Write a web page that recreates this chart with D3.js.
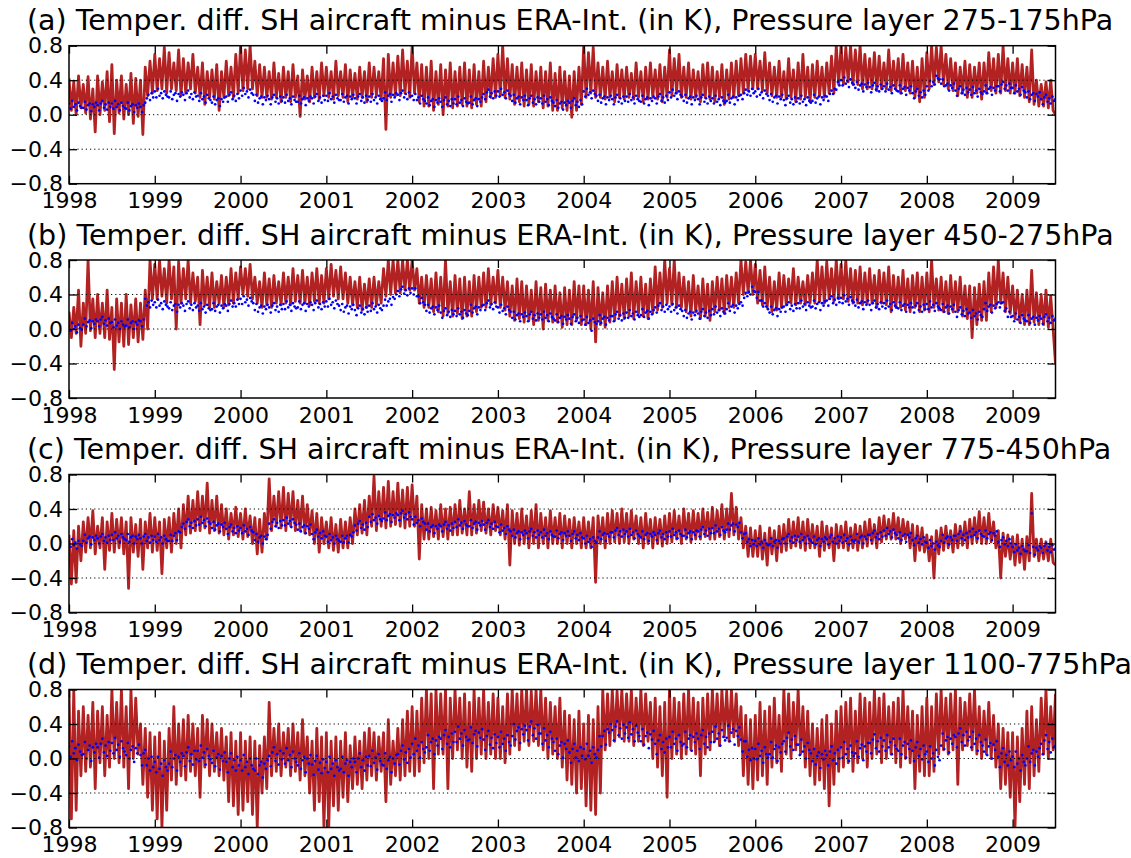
<!DOCTYPE html>
<html><head><meta charset="utf-8">
<script src="https://cdn.jsdelivr.net/npm/d3@7"></script>
<style>body{margin:0;background:#fff}svg{display:block}</style>
</head><body>
<script>
// ---- data (K). Red: every 1/36 year, blue: every 1/54 year, 1998.0 .. 2009.5 ----
const startYear = 1998, endYear = 2009.5;
const yearTicks = [1998,1999,2000,2001,2002,2003,2004,2005,2006,2007,2008,2009];
const valueTicks = [-0.8,-0.4,0.0,0.4,0.8];
const gridValues = [-0.4,0.0,0.4];
const titles = [
 "(a) Temper. diff. SH aircraft minus ERA-Int. (in K), Pressure layer 275-175hPa",
 "(b) Temper. diff. SH aircraft minus ERA-Int. (in K), Pressure layer 450-275hPa",
 "(c) Temper. diff. SH aircraft minus ERA-Int. (in K), Pressure layer 775-450hPa",
 "(d) Temper. diff. SH aircraft minus ERA-Int. (in K), Pressure layer 1100-775hPa"];

const aRed = [
 .42,.05,.38,.0,.45,.08, .35,.02,.44,-.05,.3,-.2, .45,.0,.38,.05,.5,-.08, .58,-.22,.4,.02,.45,-.05, .35,.0,.48,-.1,.42,-.02, .4,-.23,.55,.22,.62,.25,
 .7,.28,.65,.3,.78,.25, .72,.3,.6,.28,.75,.22, .65,.25,.6,.3,.7,.25, .55,.2,.6,.12,.5,.2, .52,.18,.58,.05,.5,.2, .62,.22,.55,.2,.7,.25,
 .8,.28,.75,.3,.8,.3, .62,.22,.58,.2,.55,.2, .5,.18,.6,.2,.48,.15, .55,.2,.5,.15,.58,.2, .45,-.02,.52,.18,.45,.15, .55,.2,.5,.18,.6,.22,
 .55,.2,.5,.18,.62,.22, .5,.2,.58,.15,.52,.2, .48,.18,.55,.2,.5,.15, .6,.2,.55,.22,.5,.18, .65,-.17,.7,.2,.6,.22, .68,.22,.75,.25,.62,.2,
 .8,.25,.6,.15,.58,.1, .55,.1,.62,.05,.5,.12, .58,.0,.52,.1,.6,.08, .5,.1,.55,.12,.6,.1, .52,.08,.58,.12,.5,.1, .62,.15,.55,.2,.65,.2,
 .7,.22,.8,.2,.65,.18, .58,.12,.55,.15,.6,.1, .52,.12,.58,.1,.5,.15, .55,.08,.5,.1,.6,.05, .48,.05,.55,.08,.5,.05, .45,-.03,.5,.05,.55,.12,
 .8,.2,.72,.25,.78,.2, .6,.2,.55,.18,.62,.2, .5,.15,.58,.2,.52,.18, .55,.2,.48,.18,.6,.2, .5,.15,.55,.18,.6,.2, .52,.18,.58,.15,.55,.2,
 .75,.22,.65,.25,.7,.2, .55,.2,.6,.18,.52,.2, .5,.15,.58,.2,.6,.18, .55,.15,.5,.2,.58,.12, .52,.18,.6,.2,.62,.22, .65,.25,.7,.28,.68,.3,
 .7,.3,.62,.28,.72,.25, .6,.22,.55,.2,.62,.2, .5,.18,.65,.2,.52,.15, .6,.18,.7,.2,.55,.15, .58,.2,.62,.22,.55,.2, .6,.25,.68,.25,.8,.35,
 .8,.35,.78,.38,.8,.35, .75,.35,.8,.3,.7,.3, .65,.3,.72,.28,.68,.3, .6,.3,.75,.28,.62,.3, .65,.25,.7,.28,.6,.25, .62,.2,.55,.15,.65,.2,
 .72,.3,.8,.35,.78,.38, .8,.35,.7,.3,.65,.28, .6,.22,.55,.25,.62,.2, .58,.2,.55,.25,.6,.18, .6,.25,.72,.28,.65,.25, .7,.25,.8,.28,.65,.25,
 .6,.25,.65,.22,.58,.2, .55,.15,.75,.12,.4,.1, .35,.1,.38,.08,.4,.05, .0];

const aBlue = [
 .13,.07,.16,.09,.12,.05,.14,.1,.08, .08,.15,.06,.11,.13,.04,.12,.09,.14, .11,.05,.13,.16,.08,.12,.06,.14,.09, .13,.07,.16,.09,.12,.05,.14,.1,.08, .07,.14,.05,.1,.12,.03,.11,.08,.13, .09,.03,.11,.14,.19,.23,.17,.25,.2,
 .27,.2,.3,.22,.25,.19,.27,.23,.21, .2,.27,.18,.23,.25,.16,.24,.21,.26, .23,.17,.25,.28,.2,.24,.18,.26,.21, .22,.16,.25,.18,.21,.14,.23,.19,.17, .14,.21,.12,.17,.19,.1,.18,.15,.2, .21,.15,.23,.26,.18,.22,.16,.24,.19,
 .28,.22,.31,.24,.27,.2,.29,.25,.23, .16,.23,.14,.19,.21,.12,.2,.17,.22, .18,.12,.2,.23,.15,.19,.13,.21,.16, .2,.14,.23,.16,.19,.12,.21,.17,.15, .15,.22,.13,.18,.2,.11,.19,.16,.21, .19,.13,.21,.24,.16,.2,.14,.22,.17,
 .22,.16,.25,.18,.21,.14,.23,.19,.17, .17,.24,.15,.2,.22,.13,.21,.18,.23, .19,.13,.21,.24,.16,.2,.14,.22,.17, .21,.15,.24,.17,.2,.13,.22,.18,.16, .19,.26,.17,.22,.24,.15,.23,.2,.25, .23,.17,.25,.28,.2,.24,.18,.26,.21,
 .22,.17,.24,.17,.2,.13,.22,.18,.16, .13,.2,.11,.16,.18,.09,.17,.14,.19, .15,.09,.17,.2,.12,.16,.1,.18,.13, .18,.12,.21,.14,.17,.1,.19,.15,.13, .14,.21,.12,.17,.19,.1,.18,.15,.2, .24,.18,.26,.29,.21,.25,.19,.27,.22,
 .27,.21,.3,.23,.26,.19,.28,.24,.22, .16,.23,.14,.19,.21,.12,.2,.17,.22, .17,.11,.19,.22,.14,.18,.12,.2,.15, .19,.13,.22,.15,.18,.11,.2,.16,.14, .1,.17,.08,.13,.15,.06,.14,.11,.16, .14,.08,.16,.19,.11,.15,.09,.17,.12,
 .27,.21,.3,.23,.26,.19,.28,.24,.22, .16,.23,.14,.19,.21,.12,.2,.17,.22, .18,.12,.2,.23,.15,.19,.13,.21,.16, .21,.15,.24,.17,.2,.13,.22,.18,.16, .15,.22,.13,.18,.2,.11,.19,.16,.21, .19,.13,.21,.24,.16,.2,.14,.22,.17,
 .26,.2,.29,.22,.25,.18,.27,.23,.21, .16,.23,.14,.19,.21,.12,.2,.17,.22, .18,.12,.2,.23,.15,.19,.13,.21,.16, .19,.13,.22,.15,.18,.11,.2,.16,.14, .16,.23,.14,.19,.21,.12,.2,.17,.22, .23,.18,.25,.29,.23,.27,.22,.3,.25,
 .27,.21,.3,.23,.26,.19,.28,.24,.22, .17,.24,.15,.2,.22,.13,.21,.18,.23, .17,.11,.19,.22,.14,.18,.12,.2,.15, .19,.13,.22,.15,.18,.11,.2,.16,.14, .16,.23,.14,.19,.21,.12,.2,.17,.22, .21,.16,.24,.28,.24,.3,.29,.38,.34,
 .4,.34,.43,.36,.39,.32,.41,.37,.35, .31,.38,.29,.34,.36,.27,.35,.32,.37, .32,.26,.34,.37,.29,.33,.27,.35,.3, .33,.27,.36,.29,.32,.25,.34,.3,.28, .27,.34,.25,.3,.32,.23,.31,.28,.33, .25,.19,.27,.3,.22,.26,.2,.28,.23,
 .33,.28,.39,.33,.38,.35,.45,.42,.41, .36,.41,.33,.34,.36,.28,.34,.31,.36, .28,.22,.3,.33,.25,.29,.23,.31,.26, .29,.23,.32,.25,.28,.21,.3,.26,.24, .27,.34,.25,.3,.32,.23,.31,.28,.33, .33,.27,.35,.38,.3,.34,.28,.36,.31,
 .31,.25,.34,.27,.3,.23,.32,.28,.26, .2,.27,.18,.23,.25,.16,.24,.21,.26, .18,.12,.2,.23,.15,.19,.13,.21,.16, .18];

const bRed = [
 .2,-.1,.25,-.05,.45,-.2, .3,-.05,.8,-.02,.35,-.1, .4,-.05,.3,-.1,.45,-.12, .25,-.47,.35,-.15,.3,-.2, .4,-.18,.28,-.1,.35,-.15, .3,-.12,.45,.0,.8,.35,
 .75,.35,.8,.38,.7,.3, .8,.35,.72,.0,.78,.3, .7,.35,.8,.3,.65,.32, .6,.05,.68,.28,.6,.25, .65,.25,.55,.3,.62,.25, .6,.28,.7,.3,.65,.35,
 .72,.4,.7,.38,.75,.35, .6,.3,.55,.25,.65,.28, .58,.25,.62,.3,.55,.28, .65,.3,.6,.28,.7,.32, .62,.3,.68,.3,.6,.28, .65,.32,.7,.3,.62,.3,
 .7,.35,.75,.38,.68,.35, .72,.35,.65,.3,.6,.28, .55,.25,.6,.22,.52,.25, .58,.25,.6,.28,.55,.3, .7,.38,.8,.4,.8,.42, .8,.42,.8,.45,.8,.45,
 .8,.45,.7,.3,.6,.25, .62,.25,.58,.2,.65,.2, .6,.15,.8,.18,.55,.15, .62,.18,.58,.12,.6,.15, .55,.15,.62,.2,.6,.25, .65,.25,.7,.28,.6,.3,
 .68,.25,.6,.22,.55,.15, .5,.1,.58,.12,.55,.08, .5,.1,.45,.05,.55,.1, .48,.0,.52,.1,.45,.08, .5,.08,.42,.02,.48,.05, .45,.05,.55,.1,.5,.05,
 .5,.05,.45,.0,.55,-.15, .48,.05,.42,.02,.5,.08, .55,.1,.6,.15,.52,.12, .58,.15,.65,.12,.55,.18, .6,.15,.52,.12,.58,.18, .72,.22,.65,.25,.8,.3,
 .7,.28,.8,.25,.65,.25, .6,.2,.55,.15,.62,.2, .5,.12,.58,.15,.52,.1, .55,.2,.6,.22,.58,.18, .62,.25,.6,.25,.65,.3, .8,.4,.78,.42,.8,.4,
 .75,.3,.68,.28,.72,.25, .6,.2,.55,.22,.65,.25, .62,.28,.58,.3,.7,.28, .6,.3,.55,.28,.62,.3, .65,.3,.8,.32,.72,.3, .78,.35,.7,.32,.8,.35,
 .75,.35,.8,.32,.7,.3, .68,.3,.72,.28,.65,.3, .7,.3,.62,.25,.68,.3, .65,.28,.72,.2,.62,.25, .6,.25,.68,.22,.58,.2, .62,.25,.65,.2,.6,.22,
 .65,.2,.8,.25,.58,.22, .6,.2,.55,.18,.62,.2, .55,.2,.6,.15,.5,.12, .5,-.1,.48,.05,.52,.1, .55,.1,.65,.2,.72,.25, .8,.3,.65,.2,.6,.18,
 .5,.12,.45,.08,.4,.05, .45,.05,.68,.08,.42,.05, .4,.05,.45,.02,.38,.0, -.4];

const bBlue = [
 .04,-.02,.07,.0,.03,-.04,.05,.01,-.01, .05,.12,.03,.08,.1,.01,.09,.06,.11, .09,.03,.11,.14,.06,.1,.04,.12,.07, .08,.02,.11,.04,.07,.0,.09,.05,.03, .04,.11,.02,.07,.09,.0,.08,.05,.1, .09,.03,.11,.35,.27,.31,.25,.33,.28,
 .31,.25,.34,.27,.3,.23,.32,.28,.26, .24,.31,.22,.27,.29,.2,.28,.25,.3, .27,.21,.29,.32,.24,.28,.22,.3,.25, .27,.21,.3,.23,.26,.19,.28,.24,.22, .23,.3,.21,.26,.28,.19,.27,.24,.29, .27,.21,.29,.33,.26,.3,.26,.34,.29,
 .35,.29,.38,.31,.34,.27,.36,.32,.3, .22,.29,.2,.25,.27,.18,.26,.23,.28, .25,.19,.27,.3,.22,.26,.2,.28,.23, .29,.23,.32,.25,.28,.21,.3,.26,.24, .25,.32,.23,.28,.3,.21,.29,.26,.31, .28,.22,.3,.33,.25,.29,.23,.31,.26,
 .32,.26,.35,.28,.31,.24,.33,.29,.27, .22,.29,.2,.25,.27,.18,.26,.23,.28, .22,.16,.24,.27,.19,.23,.17,.25,.2, .27,.21,.3,.23,.26,.19,.28,.24,.22, .27,.34,.27,.32,.35,.28,.37,.35,.4, .44,.38,.46,.49,.41,.45,.39,.47,.42,
 .47,.4,.47,.38,.38,.3,.36,.31,.28, .21,.28,.19,.24,.26,.17,.25,.22,.27, .19,.13,.21,.24,.16,.2,.14,.22,.17, .21,.15,.24,.17,.2,.13,.22,.18,.16, .21,.28,.19,.24,.26,.17,.25,.22,.27, .28,.22,.3,.33,.25,.29,.23,.31,.26,
 .25,.19,.28,.21,.24,.17,.26,.22,.2, .13,.2,.11,.16,.18,.09,.17,.14,.19, .15,.09,.17,.2,.12,.16,.1,.18,.13, .17,.11,.2,.13,.16,.09,.18,.14,.12, .1,.17,.08,.13,.15,.06,.14,.11,.16, .12,.06,.14,.17,.09,.13,.07,.15,.1,
 .11,.05,.14,.07,.1,-.02,.12,.08,.06, .09,.16,.07,.12,.14,.05,.13,.1,.15, .15,.09,.17,.2,.12,.16,.1,.18,.13, .19,.13,.22,.15,.18,.11,.2,.16,.14, .16,.23,.14,.19,.21,.12,.2,.17,.22, .25,.19,.27,.3,.22,.26,.2,.28,.23,
 .26,.2,.29,.22,.25,.18,.27,.23,.21, .15,.22,.13,.18,.2,.11,.19,.16,.21, .18,.12,.2,.23,.15,.19,.13,.21,.16, .23,.17,.26,.19,.22,.15,.24,.2,.18, .23,.3,.21,.26,.28,.19,.27,.24,.29, .31,.27,.36,.42,.38,.43,.4,.49,.44,
 .43,.36,.43,.33,.33,.26,.3,.26,.23, .19,.26,.17,.22,.24,.15,.23,.2,.25, .26,.2,.28,.31,.23,.27,.21,.29,.24, .3,.24,.33,.26,.29,.22,.31,.27,.25, .26,.33,.24,.29,.31,.22,.3,.27,.32, .33,.27,.35,.38,.3,.34,.28,.36,.31,
 .36,.3,.39,.32,.35,.28,.37,.33,.31, .27,.34,.25,.3,.32,.23,.31,.28,.33, .28,.22,.3,.33,.25,.29,.23,.31,.26, .3,.24,.33,.26,.29,.22,.31,.27,.25, .24,.31,.22,.27,.29,.2,.28,.25,.3, .25,.19,.27,.3,.22,.26,.2,.28,.23,
 .29,.23,.32,.25,.28,.21,.3,.26,.24, .22,.29,.2,.25,.27,.18,.26,.23,.28, .2,.14,.22,.25,.17,.21,.15,.23,.18, .19,.13,.22,.15,.18,.11,.2,.16,.14, .23,.3,.21,.26,.28,.19,.27,.24,.29, .31,.25,.3,.31,.21,.24,.14,.2,.14,
 .15,.09,.18,.11,.14,.07,.16,.12,.1, .09,.16,.07,.12,.14,.05,.13,.1,.15, .12,.06,.14,.17,.09,.13,.07,.15,.1, .12];

const cRed = [
 .1,-.47,.15,-.45,.2,-.2, .25,-.1,.3,-.05,.38,-.12, .2,-.05,.3,-.3,.25,-.08, .35,-.1,.28,-.05,.3,-.12, .25,-.52,.3,-.1,.22,-.15, .28,-.3,.25,-.05,.35,-.1,
 .3,-.08,.25,-.35,.28,-.05, .3,-.1,.35,.0,.4,-.05, .45,.1,.55,.12,.5,.15, .6,.15,.55,.18,.7,.12, .5,.15,.55,.12,.45,.1, .4,.05,.35,.1,.42,.08,
 .35,.05,.4,.08,.32,.0, .3,-.12,.28,-.1,.35,.05, .75,.15,.55,.2,.6,.18, .65,.15,.58,.2,.6,.15, .5,.15,.55,.12,.45,.1, .38,.0,.35,-.1,.3,.0,
 .25,-.05,.3,-.08,.22,-.1, .28,-.05,.25,-.05,.3,.0, .4,.1,.45,.12,.5,.1, .55,.2,.78,.15,.6,.2, .65,.18,.72,.2,.6,.22, .7,.2,.62,.18,.65,.2,
 .68,.2,.55,-.18,.45,.05, .4,.05,.42,.08,.38,.05, .45,.08,.4,.05,.42,.1, .45,.1,.5,.12,.4,.1, .6,.1,.45,.12,.5,.15, .48,.12,.4,.1,.45,.15,
 .42,.1,.38,.05,.45,-.25, .38,.0,.35,-.02,.4,.0, .32,-.05,.38,.0,.45,-.05, .35,.0,.3,-.05,.38,.0, .3,.0,.35,-.05,.32,.0, .28,-.05,.3,.0,.25,-.05,
 .3,-.05,.25,-.05,.3,-.45, .32,.0,.3,-.05,.35,.0, .38,.02,.35,.0,.4,.02, .35,.0,.38,.05,.32,.0, .3,-.05,.35,.0,.28,-.05, .3,.0,.28,-.03,.32,.0,
 .35,.02,.38,.05,.32,.0, .4,.05,.35,.02,.38,.05, .35,.05,.4,.08,.36,.05, .42,.05,.38,.08,.45,.05, .4,.08,.58,.1,.42,.05, .3,-.05,.2,-.15,.18,-.15,
 .15,-.15,.2,-.18,.12,-.25, .18,-.12,.15,-.2,.2,-.1, .22,-.08,.28,-.05,.25,-.03, .3,-.05,.25,-.08,.28,-.05, .22,-.05,.2,-.15,.25,-.08, .2,-.05,.18,-.2,.22,-.05,
 .2,-.05,.25,-.08,.18,-.05, .22,-.08,.2,-.05,.25,-.03, .28,.0,.22,-.05,.3,.02, .32,.05,.28,.05,.35,.05, .3,.0,.28,.05,.25,-.05, .22,-.2,.2,-.08,.18,-.1,
 .1,-.2,.08,-.4,.15,-.12, .18,-.08,.2,-.05,.15,-.1, .22,-.05,.2,-.02,.25,-.05, .28,.0,.3,.02,.37,.0, .3,.0,.35,.02,.25,-.05, .15,-.4,.12,-.15,.1,-.18,
 .08,-.25,.1,-.22,.05,-.3, .08,-.2,.58,-.15,.05,-.2, .05,-.18,.02,-.2,.05,-.22, -.25];

const cBlue = [
 .02,-.04,.05,-.02,.01,-.06,.03,-.01,-.03, .03,.1,.01,.06,.08,-.01,.07,.04,.09, .06,.0,.08,.11,.03,.07,.01,.09,.04, .1,.04,.13,.06,.09,.02,.11,.07,.05, .04,.11,.02,.07,.09,.0,.08,.05,.1, .06,.0,.08,.11,.03,.07,.01,.09,.04,
 .08,.02,.11,.04,.07,.0,.09,.05,.03, .03,.1,.03,.09,.12,.04,.14,.13,.19, .23,.17,.25,.28,.2,.24,.18,.26,.21, .28,.22,.31,.24,.27,.2,.29,.25,.23, .18,.25,.16,.21,.23,.14,.22,.19,.24, .17,.11,.19,.22,.14,.18,.12,.2,.15,
 .18,.12,.21,.14,.17,.1,.19,.15,.13, .04,.11,.02,.07,.09,.0,.08,.05,.1, .23,.17,.25,.28,.2,.24,.18,.26,.21, .27,.21,.3,.23,.26,.19,.28,.24,.22, .16,.23,.14,.19,.21,.12,.2,.17,.22, .11,.05,.13,.16,.08,.12,.06,.14,.09,
 .08,.02,.11,.04,.07,.0,.09,.05,.03, .02,.09,.01,.06,.09,.01,.1,.08,.13, .21,.15,.23,.26,.18,.22,.16,.24,.19, .31,.25,.34,.27,.3,.23,.32,.28,.26, .29,.36,.27,.32,.34,.25,.33,.3,.35, .33,.27,.35,.38,.3,.34,.28,.36,.31,
 .28,.22,.31,.24,.27,.2,.29,.25,.23, .16,.23,.14,.19,.21,.12,.2,.17,.22, .2,.14,.22,.25,.17,.21,.15,.23,.18, .25,.19,.28,.21,.24,.17,.26,.22,.2, .2,.27,.18,.23,.25,.16,.24,.21,.26, .22,.16,.24,.27,.19,.23,.17,.25,.2,
 .19,.13,.22,.15,.18,.11,.2,.16,.14, .09,.16,.07,.12,.14,.05,.13,.1,.15, .12,.06,.14,.17,.09,.13,.07,.15,.1, .13,.07,.16,.09,.12,.05,.14,.1,.08, .08,.15,.06,.11,.13,.04,.12,.09,.14, .09,.03,.11,.14,.06,.1,.04,.12,.07,
 .06,.0,.09,.02,.05,-.04,.07,.03,.01, .07,.14,.05,.1,.12,.03,.11,.08,.13, .13,.07,.15,.18,.1,.14,.08,.16,.11, .14,.08,.17,.1,.13,.06,.15,.11,.09, .07,.14,.05,.1,.12,.03,.11,.08,.13, .1,.04,.12,.15,.07,.11,.05,.13,.08,
 .14,.08,.17,.1,.13,.06,.15,.11,.09, .09,.16,.07,.12,.14,.05,.13,.1,.15, .14,.08,.16,.19,.11,.15,.09,.17,.12, .18,.12,.21,.14,.17,.1,.19,.15,.13, .16,.23,.16,.21,.23,.14,.22,.19,.24, .13,.06,.11,.12,.02,.05,-.03,.04,-.01,
 .03,-.03,.06,-.01,.02,-.05,.04,.0,-.02, -.01,.06,-.03,.02,.04,-.05,.03,.0,.05, .06,.0,.08,.11,.03,.07,.01,.09,.04, .08,.02,.11,.04,.07,.0,.09,.05,.03, .01,.08,-.01,.04,.06,-.03,.05,.02,.07, .05,-.01,.07,.1,.02,.06,.0,.08,.03,
 .07,.01,.1,.03,.06,-.01,.08,.04,.02, .04,.11,.02,.07,.09,.0,.08,.05,.1, .1,.04,.12,.15,.07,.11,.05,.13,.08, .15,.09,.18,.11,.14,.07,.16,.12,.1, .06,.13,.04,.09,.11,.02,.1,.07,.12, .04,-.02,.06,.09,.01,.05,-.01,.07,.02,
 .01,-.05,.04,-.03,.0,-.07,.02,-.02,-.04, .03,.1,.01,.06,.08,-.01,.07,.04,.09, .09,.03,.11,.14,.06,.1,.04,.12,.07, .14,.08,.17,.1,.13,.06,.15,.11,.09, .08,.15,.06,.11,.13,.04,.12,.09,.14, .02,-.04,.04,.07,-.01,.03,-.03,.05,.0,
 -.04,-.1,-.01,-.08,-.05,-.12,-.03,-.07,-.09, -.09,-.02,-.11,.35,-.04,-.13,-.05,-.08,-.03, -.05,-.11,-.03,.0,-.08,-.04,-.1,-.02,-.07, -.06];

const dRed = [
 .8,-.7,.8,-.6,.55,-.2, .6,-.15,.5,-.1,.65,-.35, .55,-.05,.6,-.2,.5,-.1, .8,.0,.65,-.05,.8,-.1, .6,-.35,.8,.0,.7,.05, .4,-.3,.35,-.45,.3,-.6,
 .25,-.7,.3,-.8,.2,-.6, .35,-.25,.6,-.3,.4,-.2, .45,-.25,.5,-.15,.4,-.2, .35,-.45,.5,-.1,.45,-.2, .4,-.15,.3,-.2,.35,-.25, .25,-.5,.3,-.55,.2,-.65,
 .3,-.6,.2,-.5,.25,-.65, .2,-.8,.15,-.4,.25,-.35, .65,-.2,.35,-.15,.4,-.2, .3,-.1,.35,-.2,.4,-.15, .3,-.25,.45,-.2,.25,-.4, .2,-.6,.35,-.5,.25,-.8,
 .3,-.8,.2,-.55,.25,-.6, .2,-.45,.3,-.5,.15,-.35, .25,-.3,.2,-.35,.3,-.25, .35,-.2,.3,-.25,.25,-.15, .3,-.5,.45,-.3,.2,-.2, .35,-.25,.45,-.2,.55,-.15,
 .6,-.2,.55,-.15,.7,-.05, .8,.0,.75,-.35,.8,.05, .75,.05,.8,-.35,.7,.0, .8,.1,.7,.0,.75,-.1, .65,-.15,.8,.0,.7,.05, .8,.0,.65,.05,.75,.0,
 .7,.0,.6,-.05,.75,.05, .8,.15,.75,.1,.8,.2, .8,.15,.78,.2,.8,.15, .8,.1,.7,.0,.65,.05, .6,.0,.7,-.1,.55,-.25, .5,-.3,.45,-.4,.55,-.35,
 .4,-.55,.5,-.6,.45,-.65, .6,-.4,.8,.1,.75,.15, .8,.2,.78,.25,.8,.2, .75,.2,.8,.15,.7,.2, .8,.15,.75,.2,.65,.0, .7,-.1,.6,-.2,.65,-.45,
 .8,.0,.7,.05,.65,.0, .75,.05,.8,.1,.7,.05, .65,-.2,.7,.05,.75,.1, .8,.2,.75,.15,.8,.25, .78,.2,.8,.25,.75,.15, .6,-.2,.5,-.3,.45,-.35,
 .5,-.25,.65,-.2,.55,-.3, .6,-.1,.7,-.05,.5,-.15, .8,.05,.75,.0,.65,.1, .8,.05,.6,-.1,.55,-.2, .4,-.3,.35,-.25,.45,-.35, .5,-.55,.4,-.3,.55,-.15,
 .6,-.1,.65,-.05,.7,-.15, .55,-.05,.75,.0,.7,-.1, .65,.0,.8,.05,.7,-.05, .75,.0,.6,.05,.65,-.05, .7,-.1,.8,.0,.6,-.05, .55,-.35,.5,-.15,.6,-.2,
 .7,-.2,.6,-.15,.75,.05, .8,.1,.7,.05,.75,.1, .8,-.3,.7,.1,.65,.15, .75,.1,.8,.05,.6,.0, .55,.05,.65,.0,.5,-.1, .4,-.35,.35,-.3,.3,-.45,
 .3,-.8,.25,-.5,.35,-.3, .55,-.35,.6,-.2,.45,-.15, .7,.05,.8,.0,.6,.1, .75];

const dBlue = [
 .14,.02,.2,.06,.12,-.02,.16,.08,.04, .05,.19,.0,.1,.15,-.03,.13,.07,.17, .13,.01,.17,.23,.07,.15,.03,.19,.09, .18,.06,.24,.1,.16,.02,.2,.12,.08, .04,.18,.0,.1,.14,-.04,.12,.06,.16, .04,-.08,.06,.1,-.08,.0,-.14,.02,-.1,
 -.04,-.16,.02,-.12,-.06,-.2,-.02,-.1,-.14, -.06,.08,-.1,.0,.04,-.14,.02,-.04,.06, .03,-.09,.07,.13,-.03,.05,-.07,.09,-.01, .09,-.03,.15,.01,.07,-.07,.11,.03,-.01, -.05,.09,-.09,.01,.05,-.13,.03,-.03,.07, -.04,-.16,.0,.06,-.1,-.02,-.14,.02,-.08,
 -.02,-.14,.04,-.1,-.04,-.18,.0,-.08,-.12, -.14,.0,-.18,-.08,-.04,-.22,-.06,-.12,-.02, .03,-.09,.07,.13,-.03,.05,-.07,.09,-.01, .06,-.06,.12,-.02,.04,-.1,.08,.0,-.04, -.08,.06,-.12,-.02,.02,-.16,.0,-.06,.04, -.07,-.19,-.03,.03,-.13,-.05,-.17,-.01,-.11,
 -.04,-.16,.02,-.12,-.06,-.2,-.02,-.1,-.14, -.12,.02,-.16,-.06,-.02,-.2,-.04,-.1,.0, -.04,-.16,.0,.06,-.1,-.02,-.14,.02,-.08, .03,-.09,.09,-.05,.01,-.13,.05,-.03,-.07, -.08,.06,-.12,-.02,.02,-.16,.0,-.06,.04, .05,-.07,.09,.15,-.01,.07,-.05,.11,.01,
 .17,.05,.23,.09,.15,.01,.19,.11,.07, .13,.27,.09,.19,.23,.05,.21,.15,.25, .23,.11,.27,.33,.17,.25,.13,.29,.19, .31,.19,.37,.23,.29,.15,.33,.25,.21, .22,.36,.18,.28,.32,.14,.3,.24,.34, .22,.1,.26,.32,.16,.24,.12,.28,.18,
 .25,.13,.31,.17,.23,.09,.27,.19,.15, .26,.4,.22,.32,.36,.18,.34,.28,.38, .33,.21,.37,.43,.27,.35,.23,.39,.29, .29,.17,.35,.21,.27,.13,.31,.23,.19, .09,.23,.05,.15,.19,.01,.17,.11,.21, .07,-.05,.11,.17,.01,.09,-.03,.13,.03,
 .11,-.01,.17,.03,.09,-.05,.13,.05,.01, .1,.26,.14,.26,.32,.16,.34,.3,.4, .33,.21,.37,.43,.27,.35,.23,.39,.29, .36,.24,.42,.28,.34,.2,.38,.3,.26, .2,.34,.16,.26,.3,.12,.28,.22,.32, .17,.05,.21,.27,.11,.19,.07,.23,.13,
 .25,.13,.31,.17,.23,.09,.27,.19,.15, .17,.31,.13,.23,.27,.09,.25,.19,.29, .23,.11,.27,.33,.17,.25,.13,.29,.19, .31,.19,.37,.23,.29,.15,.33,.25,.21, .24,.38,.2,.3,.34,.16,.32,.26,.36, .22,.08,.2,.2,.02,.1,-.02,.12,.0,
 .11,-.01,.17,.03,.09,-.05,.13,.05,.01, .05,.19,.01,.11,.15,-.03,.13,.07,.17, .2,.08,.24,.3,.14,.22,.1,.26,.16, .16,.04,.22,.08,.14,.0,.18,.1,.06, -.03,.11,-.07,.03,.07,-.11,.05,-.01,.09, .04,-.08,.08,.14,-.02,.06,-.06,.1,.0,
 .13,.01,.19,.05,.11,-.03,.15,.07,.03, .06,.2,.02,.12,.16,-.02,.14,.08,.18, .18,.06,.22,.28,.12,.2,.08,.24,.14, .21,.09,.27,.13,.19,.05,.23,.15,.11, .09,.23,.05,.15,.19,.01,.17,.11,.21, .09,-.03,.13,.19,.03,.11,-.01,.15,.05,
 .08,-.04,.14,.0,.06,-.08,.1,.02,-.02, .15,.29,.11,.21,.25,.07,.23,.17,.27, .25,.13,.29,.35,.19,.27,.15,.31,.21, .25,.13,.31,.17,.23,.09,.27,.19,.15, .08,.22,.04,.14,.18,.0,.16,.1,.2, .02,-.1,.06,.12,-.04,.04,-.08,.08,-.02,
 .02,-.1,.08,-.06,.0,-.14,.04,-.04,-.08, .0,.14,-.04,.06,.1,-.08,.08,.02,.12, .17,.05,.21,.27,.11,.19,.07,.23,.13, .15];

const panels = [
  {title: titles[0], red: aRed, blue: aBlue},
  {title: titles[1], red: bRed, blue: bBlue},
  {title: titles[2], red: cRed, blue: cBlue},
  {title: titles[3], red: dRed, blue: dBlue}
];

// ---- layout ----
const W = 1131, H = 858;
const left = 69, right = 1055.5;
const tops = [45.7, 260, 474.5, 689.5];
const ph = 138;
const redColor = "#b22222", blueColor = "#0000ff";
const font = "DejaVu Sans, Bitstream Vera Sans, sans-serif";

const svg = d3.select("body").append("svg").attr("width", W).attr("height", H)
  .style("font-family", font);

const x = d3.scaleLinear().domain([startYear, endYear]).range([left, right]);

panels.forEach((p, k) => {
  const top = tops[k];
  const y = d3.scaleLinear().domain([-0.8, 0.8]).range([top + ph, top]);
  const g = svg.append("g");
  const clipId = "clip" + k;
  g.append("clipPath").attr("id", clipId).append("rect")
    .attr("x", left).attr("y", top).attr("width", right - left).attr("height", ph);

  const tOf = (arr) => (i) => startYear + i * (endYear - startYear) / (arr.length - 1);
  const tr = tOf(p.red), tb = tOf(p.blue);

  const plot = g.append("g").attr("clip-path", `url(#${clipId})`);
  plot.append("path")
    .datum(p.red)
    .attr("fill", "none").attr("stroke", redColor).attr("stroke-width", 2.8)
    .attr("stroke-linejoin", "round")
    .attr("d", d3.line().x((d, i) => x(tr(i))).y(d => y(d)));

  plot.selectAll("circle.b").data(p.blue).join("circle")
    .attr("class", "b")
    .attr("cx", (d, i) => x(tb(i))).attr("cy", d => y(d))
    .attr("r", 1.35).attr("fill", blueColor);

  // dotted grid
  g.selectAll("line.grid").data(gridValues).join("line")
    .attr("class", "grid")
    .attr("x1", left).attr("x2", right)
    .attr("y1", d => y(d)).attr("y2", d => y(d))
    .attr("stroke", "#000").attr("stroke-width", 1)
    .attr("stroke-dasharray", "1.2,3");

  // axes (inward ticks, all four sides)
  const tick = 8;
  const fmtY = d => d3.format(".1f")(d).replace("-", "\u2212");
  const axB = d3.axisBottom(x).tickValues(yearTicks).tickSize(-tick).tickPadding(9).tickFormat(d3.format("d"));
  const axT = d3.axisTop(x).tickValues(yearTicks).tickSize(-tick).tickFormat("");
  const axL = d3.axisLeft(y).tickValues(valueTicks).tickSize(-tick).tickPadding(6).tickFormat(fmtY);
  const axR = d3.axisRight(y).tickValues(valueTicks).tickSize(-tick).tickFormat("");

  const style = sel => {
    sel.select(".domain").remove();
    sel.selectAll(".tick line").attr("stroke", "#000").attr("stroke-width", 1.3);
    sel.selectAll(".tick text").attr("fill", "#000").style("font-size", "22px").style("font-family", font);
  };
  g.append("g").attr("transform", `translate(0,${top + ph})`).call(axB).call(style);
  g.append("g").attr("transform", `translate(0,${top})`).call(axT).call(style);
  g.append("g").attr("transform", `translate(${left},0)`).call(axL).call(style);
  g.append("g").attr("transform", `translate(${right},0)`).call(axR).call(style);

  g.append("rect").attr("x", left).attr("y", top).attr("width", right - left).attr("height", ph)
    .attr("fill", "none").attr("stroke", "#000").attr("stroke-width", 1.5);

  g.append("text").attr("x", 27).attr("y", top - 15.5)
    .style("font-size", "28.5px").attr("fill", "#000").text(p.title);
});
</script>
</body></html>
